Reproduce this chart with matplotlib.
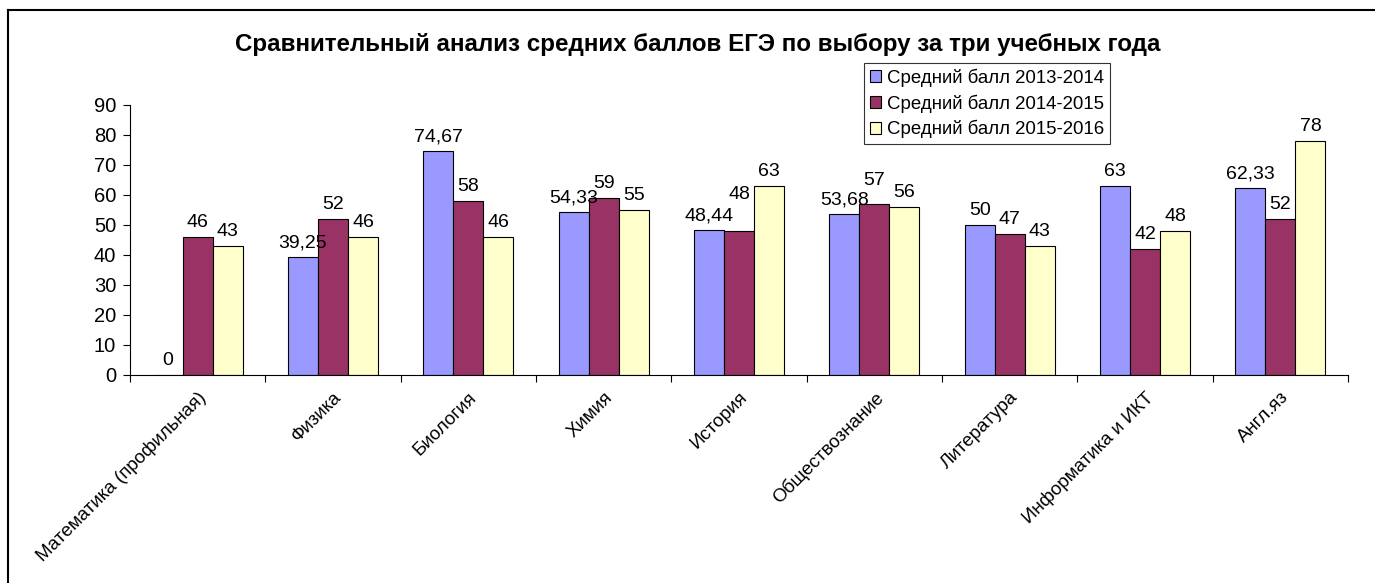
import matplotlib
matplotlib.use("Agg")
import matplotlib.pyplot as plt
import numpy as np
from matplotlib.lines import Line2D

plt.rcParams['font.family'] = ['Liberation Sans', 'DejaVu Sans']

categories = ["Математика (профильная)", "Физика", "Биология", "Химия", "История",
              "Обществознание", "Литература", "Информатика и ИКТ", "Англ.яз"]
series_names = ["Средний балл 2013-2014", "Средний балл 2014-2015", "Средний балл 2015-2016"]
s2013 = [0, 39.25, 74.67, 54.33, 48.44, 53.68, 50, 63, 62.33]
s2014 = [46, 52, 58, 59, 48, 57, 47, 42, 52]
s2015 = [43, 46, 46, 55, 63, 56, 43, 48, 78]
yticks = list(range(0, 91, 10))
title = "Сравнительный анализ средних баллов ЕГЭ по выбору за три учебных года"

colors = ["#9999FF", "#993366", "#FFFFCC"]

# extra upward nudges (points) for labels that Excel moved to avoid overlap: (series, category)
label_nudge = {(1, 4): 16, (1, 5): 7}

W, H = 1375, 583
fig = plt.figure(figsize=(W / 100, H / 100), dpi=100)
ax = fig.add_axes([130 / W, 1 - 375 / H, (1348 - 130) / W, (375 - 105) / H])

def fmt(v):
    if float(v).is_integer():
        return str(int(v))
    return f"{v:.2f}".replace(".", ",")

x = np.arange(len(categories)) + 0.5
bw = 0.222
for i, (vals, c, name) in enumerate(zip([s2013, s2014, s2015], colors, series_names)):
    xs = x + (i - 1) * bw
    ax.bar(xs, vals, width=bw, color=c, edgecolor="black", linewidth=0.8, label=name)
    for j, (xx, v) in enumerate(zip(xs, vals)):
        ax.annotate(fmt(v), (xx, v), xytext=(0, 4 + label_nudge.get((i, j), 0)),
                    textcoords="offset points", ha="center", va="bottom", fontsize=14)

ax.set_xlim(0, len(categories))
ax.set_ylim(0, 90)
ax.set_yticks(yticks)
ax.set_yticklabels([str(t) for t in yticks], fontsize=14.5)
ax.set_xticks(np.arange(len(categories) + 1))
ax.set_xticklabels([])
ax.set_xticks(x, minor=True)
ax.set_xticklabels(categories, minor=True, rotation=45, ha="right",
                   rotation_mode="anchor", fontsize=13.5)
ax.tick_params(axis="x", which="minor", length=0, pad=10)
ax.tick_params(axis="x", which="major", length=5, direction="out", color="black")
ax.tick_params(axis="y", length=5, direction="out", pad=5)
for s in ["top", "right"]:
    ax.spines[s].set_visible(False)
for s in ["left", "bottom"]:
    ax.spines[s].set_linewidth(0.8)

leg = ax.legend(loc="upper left", bbox_to_anchor=((864 - 130) / (1348 - 130), 1 + (105 - 63) / 270),
                fontsize=13.4, frameon=True, fancybox=False, edgecolor="black",
                handlelength=0.6, handleheight=0.6, handletextpad=0.35,
                borderpad=0.3, labelspacing=0.4, borderaxespad=0)
leg.get_frame().set_linewidth(0.8)

fig.text(698 / W, 1 - 45 / H, title, ha="center", va="center", fontsize=17.4, fontweight="bold")

fig.add_artist(Line2D([8 / W, 1], [1 - 10 / H, 1 - 10 / H], color="black", linewidth=1.5))
fig.add_artist(Line2D([8 / W, 8 / W], [0, 1 - 10 / H], color="black", linewidth=1.5))

fig.savefig("out.png", dpi=100)
